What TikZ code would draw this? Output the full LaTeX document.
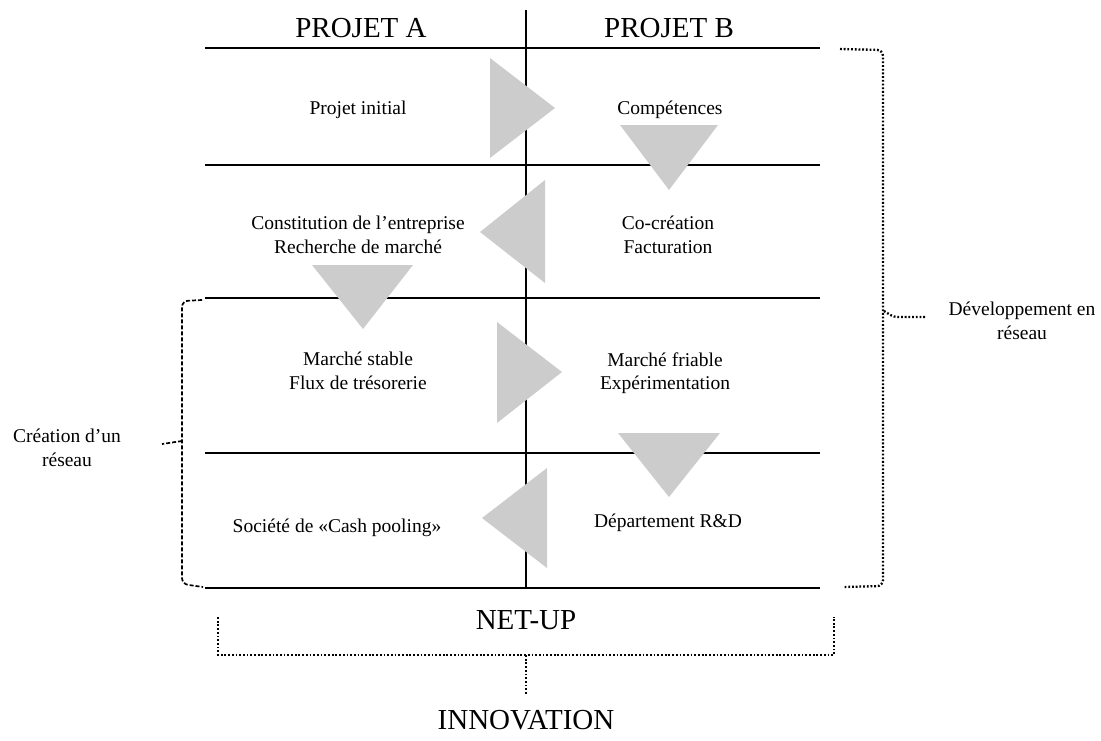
\documentclass[tikz,border=0pt]{standalone}
\usepackage{fontspec}
\setmainfont{Liberation Serif}
\begin{document}
\begin{tikzpicture}[x=1pt,y=-1pt,
  rule/.style={line width=1.3pt},
  tri/.style={fill=black!20, draw=none},
  lab/.style={font=\fontsize{19.5}{23.5}\selectfont, align=center, inner sep=0pt},
  big/.style={font=\fontsize{29}{34}\selectfont, inner sep=0pt},
  dotline/.style={line width=2.3pt, dash pattern=on 1.8pt off 1.9pt},
  dashline/.style={line width=1.7pt, dash pattern=on 4pt off 2pt}]
\useasboundingbox (0,0) rectangle (1101,740);
% grid
\coordinate (vt) at (526,10);
\coordinate (vb) at (526,588);
\foreach \y/\n in {48/1,165/2,298/3,453/4,588/5}{
  \coordinate (hl\n) at (205,\y);
  \coordinate (hr\n) at (820,\y);
  \draw[rule] (hl\n) -- (hr\n);
}
\draw[rule] (vt) -- (vb);
% triangles
\fill[tri] (490,58) -- (555,108) -- (490,158) -- cycle;
\fill[tri] (545,180) -- (480,232) -- (545,283) -- cycle;
\fill[tri] (497,322) -- (562,372) -- (497,423) -- cycle;
\fill[tri] (547,468) -- (482,518) -- (547,568) -- cycle;
\fill[tri] (620,125) -- (718,125) -- (669,190) -- cycle;
\fill[tri] (312,265) -- (413,265) -- (363,329) -- cycle;
\fill[tri] (618,433) -- (720,433) -- (669,497) -- cycle;
% headers
\node[big] (pa) at (361,28) {PROJET A};
\node[big] (pb) at (669,28) {PROJET B};
% cell texts
\node[lab] (a1) at (358,110) {Projet initial};
\node[lab] (b1) at (670,110) {Compétences};
\node[lab] (a2) at (358,235) {Constitution de l’entreprise\\Recherche de marché};
\node[lab] (b2) at (668,235) {Co-création\\Facturation};
\node[lab] (a3) at (358,371) {Marché stable\\Flux de trésorerie};
\node[lab] (b3) at (665,373) {Marché friable\\Expérimentation};
\node[lab] (a4) at (337,528) {Société de «Cash pooling»};
\node[lab] (b4) at (668,523) {Département R\&D};
% right brace
\coordinate (rb1) at (840,49);
\coordinate (rb2) at (883,50);
\coordinate (rb3) at (883,586);
\coordinate (rb4) at (843,587);
\coordinate (rbm) at (884,311);
\coordinate (rbt) at (925,317);
\node[lab] (dev) at (1022,321) {Développement en\\réseau};
\draw[dotline, rounded corners=6pt] (rb1) -- (rb2) -- (rb3) -- (rb4);
\draw[dotline] (rbm) to[out=-30,in=180] (898,317) -- (rbt);
% left brace
\coordinate (lb1) at (202,300);
\coordinate (lb2) at (182,301);
\coordinate (lb3) at (182,584);
\coordinate (lb4) at (203,587);
\coordinate (lbm) at (182,441);
\coordinate (lbt) at (162,444);
\node[lab] (cre) at (67,448) {Création d’un\\réseau};
\draw[dashline, rounded corners=6pt] (lb1) -- (lb2) -- (lb3) -- (lb4);
\draw[dashline] (lbm) -- (lbt);
% bottom bracket
\node[big] (net) at (526,620) {NET-UP};
\node[big] (inn) at (526,720) {INNOVATION};
\coordinate (bb1) at (218,617);
\coordinate (bb2) at (218,655);
\coordinate (bb3) at (834,655);
\coordinate (bb4) at (834,617);
\coordinate (bbm) at (526,655);
\coordinate (bbt) at (526,695);
\draw[dotline] (bb1) -- (bb2) -- (bb3) -- (bb4);
\draw[dotline] (bbm) -- (bbt);
\end{tikzpicture}
\end{document}
